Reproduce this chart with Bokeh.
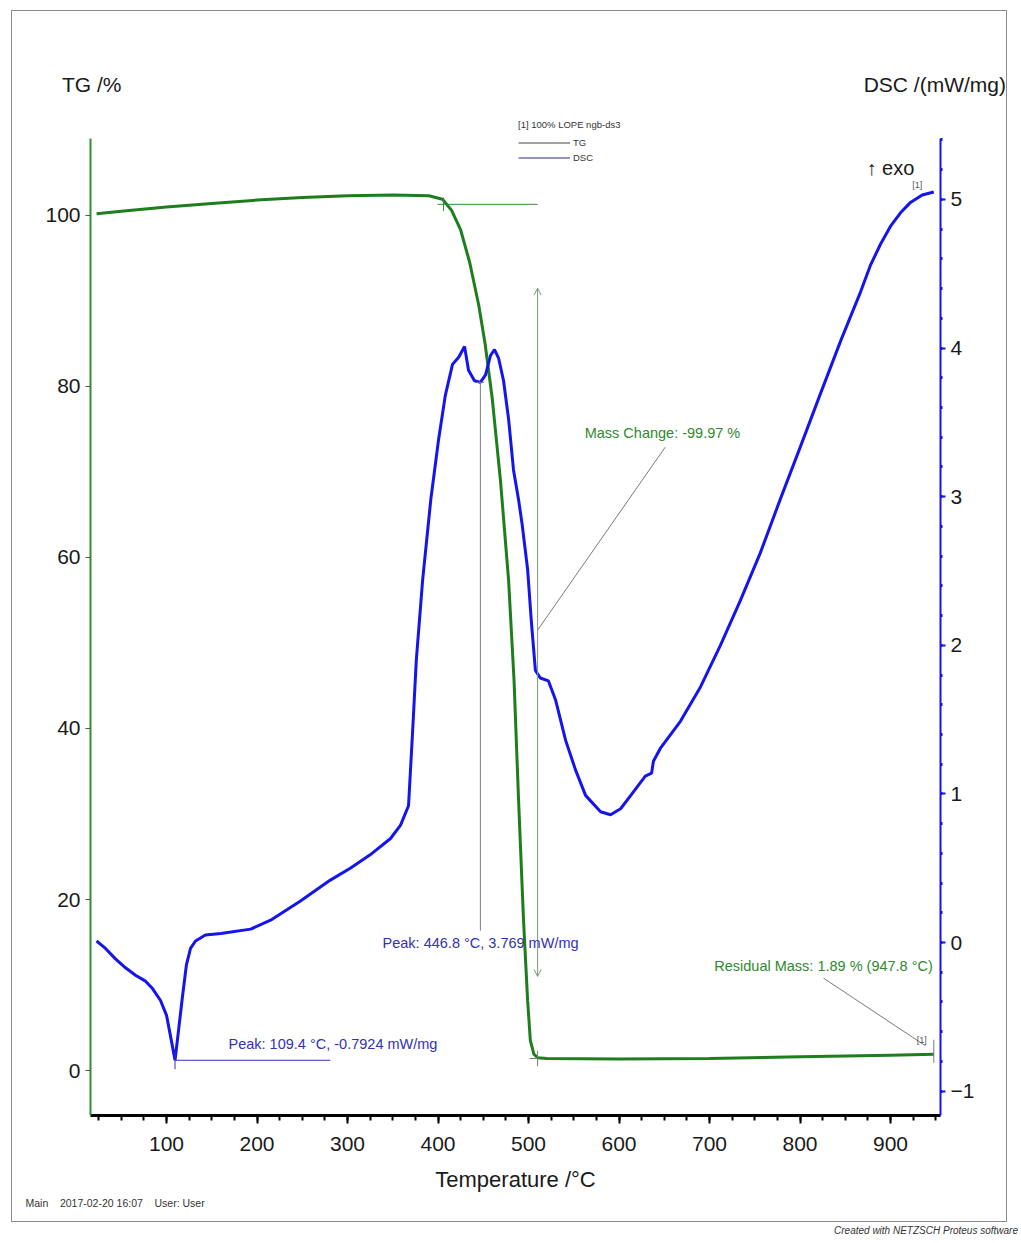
from bokeh.plotting import figure
from bokeh.models import (Range1d, LinearAxis, FixedTicker, Label, Arrow, OpenHead,
                          Legend, LegendItem, Div, Title)
from bokeh.layouts import column
from bokeh.embed import file_html
from bokeh.resources import INLINE

# ---- measured data -------------------------------------------------------
tg_temp = [22.7, 50, 100, 150, 200, 250, 300, 350, 390, 405, 415, 425, 435, 445,
           452, 460, 469, 478, 484, 489, 494.5, 499, 502, 506, 510, 520, 600, 700,
           800, 900, 947.8]
tg_mass = [100.2, 100.5, 101.0, 101.4, 101.8, 102.1, 102.3, 102.4, 102.3, 101.9,
           100.6, 98.3, 94.5, 89.5, 85.0, 78.5, 69.0, 57.3, 45.6, 31.6, 17.5, 8.2,
           3.5, 1.9, 1.5, 1.4, 1.35, 1.4, 1.6, 1.8, 1.89]

dsc_temp = [22.7, 32.6, 43.6, 54.7, 65.7, 76.8, 84.5, 93.4, 100, 104.4, 109.4, 113.3,
            117.7, 122, 126.5, 132, 143, 160, 193, 215, 248, 281, 303, 325, 347.5,
            358.6, 367.4, 372, 376, 383, 392, 400.5, 408, 416, 423, 429.3, 433.7,
            440.3, 446.8, 452.5, 458, 462.4, 467, 472.4, 478, 483.4, 489, 493, 499,
            503, 507.6, 513, 522, 530, 541, 552, 563, 579.6, 590.6, 601.7, 613, 629,
            636, 638, 646, 668, 690, 712, 734, 756, 778, 800, 823, 845, 867, 878,
            889, 900, 911, 922, 935, 947.8]
dsc_val = [0.01, -0.04, -0.11, -0.17, -0.22, -0.26, -0.31, -0.39, -0.49, -0.63, -0.7924,
           -0.59, -0.36, -0.15, -0.04, 0.01, 0.05, 0.06, 0.09, 0.15, 0.28, 0.42, 0.50,
           0.59, 0.70, 0.79, 0.92, 1.43, 1.90, 2.44, 2.98, 3.38, 3.68, 3.89, 3.94,
           4.01, 3.85, 3.78, 3.769, 3.82, 3.95, 3.99, 3.93, 3.78, 3.52, 3.18, 2.98,
           2.81, 2.51, 2.17, 1.83, 1.78, 1.76, 1.63, 1.36, 1.16, 0.99, 0.88, 0.86,
           0.90, 0.99, 1.12, 1.14, 1.22, 1.31, 1.49, 1.72, 2.00, 2.30, 2.62, 2.98,
           3.33, 3.70, 4.05, 4.38, 4.56, 4.70, 4.82, 4.91, 4.98, 5.03, 5.05]

x_ticks = [100, 200, 300, 400, 500, 600, 700, 800, 900]
tg_ticks = [0, 20, 40, 60, 80, 100]
dsc_ticks = [-1, 0, 1, 2, 3, 4, 5]

peak1_t, peak1_v = 109.4, -0.7924
peak2_t, peak2_v = 446.8, 3.769
mass_change = -99.97
resid_t, resid_m = 947.8, 1.89
onset_t, onset_m = 406.0, 101.3
step_t = 510.0

FONT = "Liberation Sans"
GREEN = "#1e7e1e"
AXGREEN = "#2f8f2f"
BLUE = "#1414ee"
TXTBLUE = "#3232b4"
TXTGREEN = "#2e8a2e"
GRAY = "#7a7a7a"
INK = "#1a1a1a"
NB = "\u00a0"

# ---- header strip: axis titles and sample caption --------------------------
head_html = (
    '<div style="position:relative;width:994px;height:127px;'
    "font-family:'Liberation Sans',sans-serif;color:#1a1a1a\">"
    '<span style="position:absolute;left:50px;top:63px;font-size:21px;line-height:22px;'
    'white-space:nowrap">TG /%</span>'
    '<span style="position:absolute;right:0px;top:63px;font-size:21px;line-height:22px;'
    'white-space:nowrap">DSC /(mW/mg)</span>'
    '<span style="position:absolute;left:506px;top:108px;font-size:9.5px;line-height:11px;'
    'color:#333333;white-space:nowrap">[1] 100% LOPE ngb-ds3</span>'
    '</div>')
head = Div(text=head_html, width=994, height=127, margin=0)

# ---- main plot -------------------------------------------------------------
p = figure(width=994, height=1083, output_backend="svg", toolbar_location=None,
           x_range=Range1d(16.0, 955.2), y_range=Range1d(-5.26, 109.0),
           min_border_left=78, min_border_right=66, min_border_top=0,
           min_border_bottom=106)
p.extra_y_ranges = {"dsc": Range1d(-1.164, 5.41)}
p.outline_line_color = None
p.grid.visible = False

# bottom axis
xa = p.xaxis[0]
xa.ticker = FixedTicker(ticks=x_ticks, minor_ticks=list(range(25, 951, 25)))
xa.axis_label = "Temperature /°C"
xa.axis_label_text_font = FONT
xa.axis_label_text_font_size = "22px"
xa.axis_label_text_font_style = "normal"
xa.axis_label_text_color = INK
xa.axis_label_standoff = 13
xa.major_label_text_font = FONT
xa.major_label_text_font_size = "21px"
xa.major_label_text_color = INK
xa.major_label_standoff = 13
xa.axis_line_width = 3
xa.axis_line_color = "black"
xa.major_tick_in = 0
xa.major_tick_out = 8
xa.minor_tick_in = 0
xa.minor_tick_out = 5
xa.major_tick_line_width = 2
xa.minor_tick_line_width = 2

# left TG axis
ya = p.yaxis[0]
ya.ticker = FixedTicker(ticks=tg_ticks)
ya.axis_line_color = AXGREEN
ya.axis_line_width = 2
ya.major_tick_line_color = "#555555"
ya.major_tick_in = 0
ya.major_tick_out = 5
ya.minor_tick_line_color = None
ya.major_label_text_font = FONT
ya.major_label_text_font_size = "21px"
ya.major_label_text_color = INK
ya.major_label_standoff = 5

# right DSC axis
ra = LinearAxis(y_range_name="dsc",
                ticker=FixedTicker(ticks=dsc_ticks,
                                   minor_ticks=[round(-1.2 + 0.2 * i, 1) for i in range(34)]))
ra.axis_line_color = BLUE
ra.axis_line_width = 2
ra.major_tick_line_color = BLUE
ra.major_tick_line_width = 2
ra.major_tick_in = 0
ra.major_tick_out = 5
ra.minor_tick_line_color = BLUE
ra.minor_tick_line_width = 3
ra.minor_tick_in = 0
ra.minor_tick_out = 2
ra.major_label_text_font = FONT
ra.major_label_text_font_size = "21px"
ra.major_label_text_color = INK
ra.major_label_standoff = 5
p.add_layout(ra, "right")

# curves
p.line(tg_temp, tg_mass, line_color=GREEN, line_width=3)
p.line(dsc_temp, dsc_val, line_color=BLUE, line_width=3, y_range_name="dsc")

# legend with thin sample lines
nan = float("nan")
tg_key = p.line([nan], [nan], line_color="#444444", line_width=1)
dsc_key = p.line([nan], [nan], line_color="#2a2a8a", line_width=1)
leg = Legend(items=[LegendItem(label="TG", renderers=[tg_key]),
                    LegendItem(label="DSC", renderers=[dsc_key])],
             location=(428, 950),
             label_text_font=FONT, label_text_font_size="9.5px", label_text_color="#333333",
             glyph_width=52, glyph_height=15, label_height=15, label_standoff=3,
             spacing=0, padding=0, margin=0,
             border_line_color=None, background_fill_alpha=0)
p.add_layout(leg, "center")

# onset / step markers on the TG curve
p.segment(x0=[399.5, onset_t], y0=[onset_m, onset_m - 0.8], x1=[step_t, onset_t],
          y1=[onset_m, onset_m + 0.8], line_color=AXGREEN, line_width=1)
p.segment(x0=[501, step_t], y0=[1.4, 0.5], x1=[step_t, step_t], y1=[1.4, 2.3],
          line_color=GRAY, line_width=1)
p.add_layout(Arrow(x_start=step_t, y_start=91.5, x_end=step_t, y_end=11.0,
                   line_color="#7a9a7a", line_width=1,
                   start=OpenHead(size=7, line_color="#7a9a7a", line_width=1),
                   end=OpenHead(size=7, line_color="#7a9a7a", line_width=1)))
p.segment(x0=[step_t], y0=[51.5], x1=[651], y1=[72.9], line_color=GRAY, line_width=1)
p.add_layout(Label(x=648, y=74.5, text=f"Mass Change: {mass_change:.2f} %",
                   text_font=FONT, text_font_size="14.5px", text_color=TXTGREEN,
                   text_align="center", text_baseline="middle"))

# residual mass
p.segment(x0=[826, resid_t], y0=[10.8, 0.9], x1=[938.5, resid_t], y1=[2.9, 3.6],
          line_color=GRAY, line_width=1)
p.add_layout(Label(x=946.7, y=12.2, text=f"Residual Mass: {resid_m:.2f} % ({resid_t} °C)",
                   text_font=FONT, text_font_size="14.5px", text_color=TXTGREEN,
                   text_align="right", text_baseline="middle"))
p.add_layout(Label(x=940, y=3.6, text="[1]", text_font=FONT, text_font_size="9px",
                   text_color="#555555", text_align="right", text_baseline="middle"))

# DSC peaks
p.segment(x0=[peak1_t, peak1_t], y0=[peak1_v, peak1_v - 0.06], x1=[281, peak1_t],
          y1=[peak1_v, peak1_v + 0.06], line_color=TXTBLUE, line_width=1, y_range_name="dsc")
p.add_layout(Label(x=168.5, y=-0.686, y_range_name="dsc",
                   text=f"Peak: {peak1_t} °C, {peak1_v} mW/mg",
                   text_font=FONT, text_font_size="14.5px", text_color=TXTBLUE,
                   text_align="left", text_baseline="middle"))
p.segment(x0=[peak2_t, peak2_t - 4], y0=[peak2_v, peak2_v], x1=[peak2_t, peak2_t + 4],
          y1=[0.08, peak2_v], line_color=GRAY, line_width=1, y_range_name="dsc")
p.add_layout(Label(x=338.7, y=0.0, y_range_name="dsc",
                   text=f"Peak: {peak2_t} °C, {peak2_v} mW/mg",
                   text_font=FONT, text_font_size="14.5px", text_color=TXTBLUE,
                   text_align="left", text_baseline="middle"))

p.add_layout(Label(x=873.5, y=5.21, y_range_name="dsc", text="↑ exo", text_font=FONT,
                   text_font_size="20px", text_color=INK, text_align="left",
                   text_baseline="middle"))
p.add_layout(Label(x=935, y=5.1, y_range_name="dsc", text="[1]", text_font=FONT,
                   text_font_size="9px", text_color="#555555", text_align="right",
                   text_baseline="middle"))

# footer line inside the frame box
p.add_layout(Title(text=f"Main{NB*4}2017-02-20 16:07{NB*4}User: User", align="left",
                   offset=-65, text_font=FONT, text_font_size="10.5px",
                   text_font_style="normal", text_color="#333333", standoff=0), "below")

box = column(head, p, spacing=0, margin=(11, 15, 0, 12),
             styles={"outline": "1.5px solid #8c8c8c"})

credit = Div(text="Created with NETZSCH Proteus software", width=1018, height=20,
             margin=(3, 0, 0, 0),
             styles={"text-align": "right", "font-style": "italic", "font-size": "10px",
                     "font-family": "'Liberation Sans', sans-serif", "color": "#333333"})

page = column(box, credit)
open("out.html", "w").write(file_html(page, INLINE))
